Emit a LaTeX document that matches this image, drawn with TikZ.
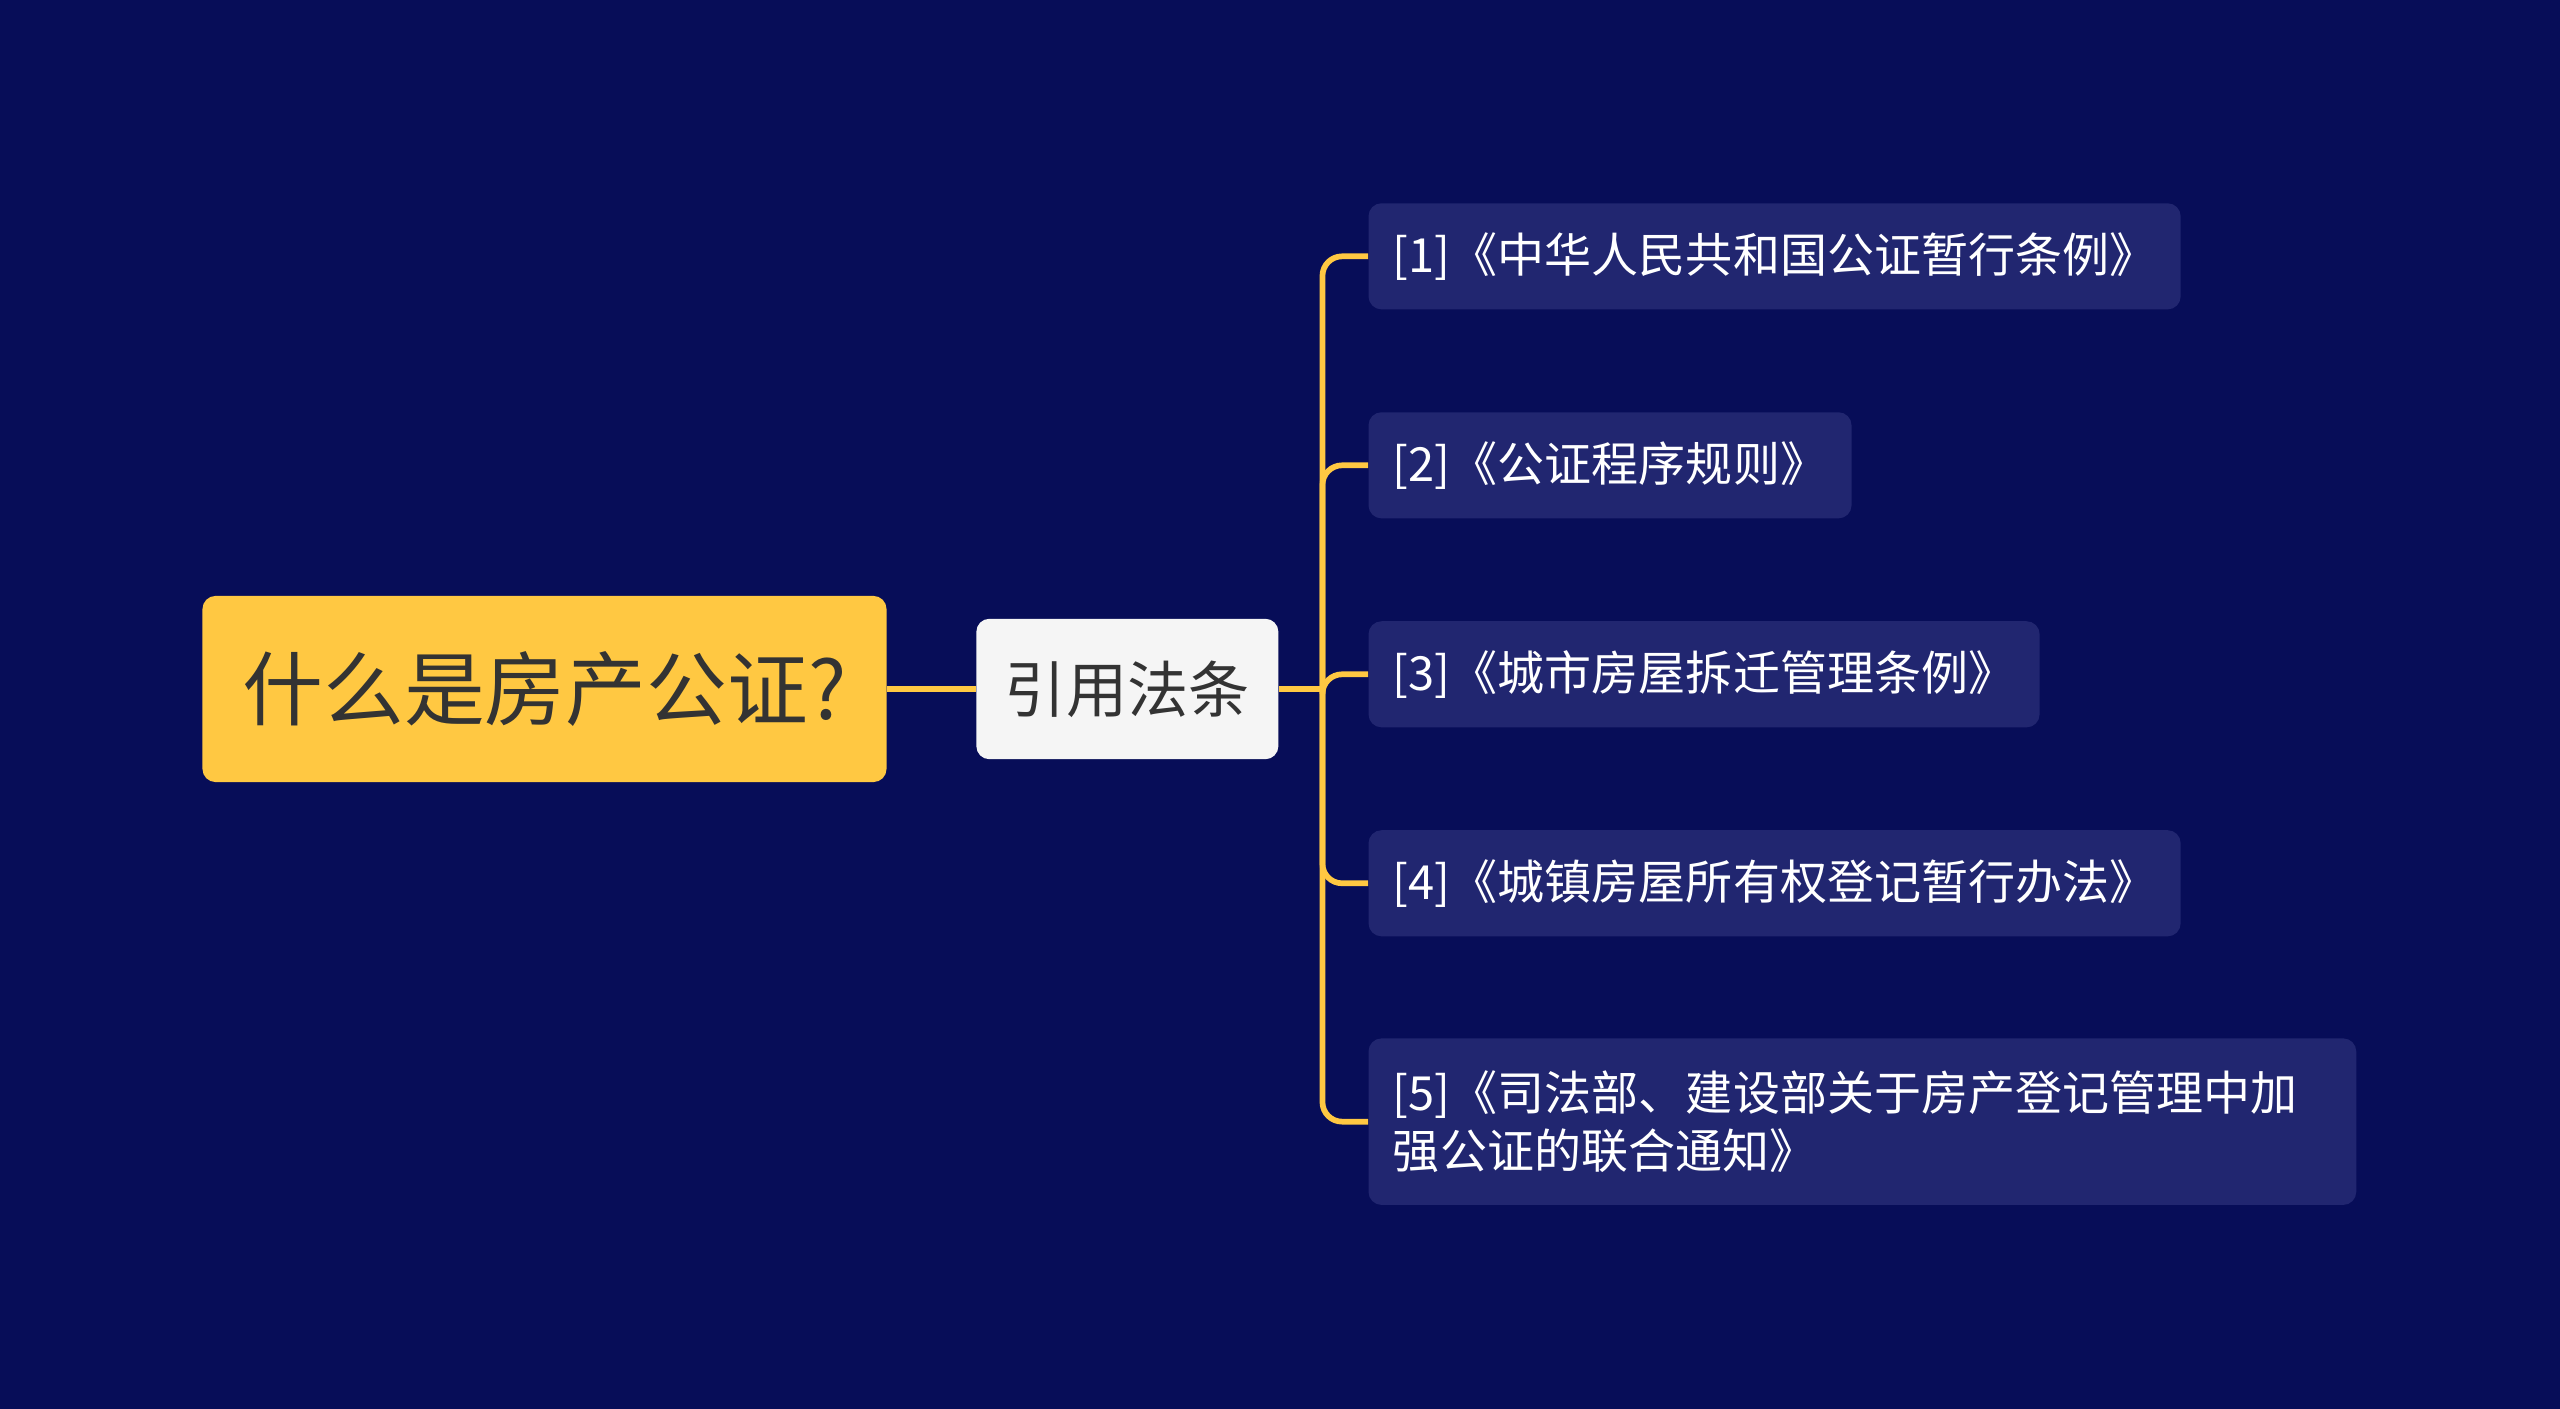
\documentclass[tikz,border=0pt]{standalone}
\usepackage{fontspec}
\setmainfont{Noto Sans CJK SC}
\usetikzlibrary{positioning}
\definecolor{bgnavy}{RGB}{7,13,88}
\definecolor{rootyel}{RGB}{255,200,66}
\definecolor{subgray}{RGB}{245,245,245}
\definecolor{leafnavy}{RGB}{33,38,112}
\definecolor{txtdark}{RGB}{51,51,51}

\begin{document}
\begin{tikzpicture}[x=1pt,y=-1pt,
  rootbox/.style={fill=rootyel, rounded corners=8pt, text=txtdark, inner sep=0pt,
    minimum width=419pt, minimum height=114pt, font=\fontsize{49.5}{58}\selectfont},
  subbox/.style={fill=subgray, rounded corners=8pt, text=txtdark, inner sep=0pt,
    minimum width=185pt, minimum height=86pt, font=\fontsize{37.5}{44}\selectfont},
  leafbox/.style={fill=leafnavy, rounded corners=8pt, text=white, anchor=west,
    inner xsep=15pt, inner ysep=0pt, minimum height=65pt, align=left,
    font=\fontsize{28.8}{36}\selectfont},
  link/.style={draw=rootyel, line width=3.5pt, rounded corners=12pt}]
  % canvas
  \fill[bgnavy] (0,0) rectangle (1568,863);
  \useasboundingbox (0,0) rectangle (1568,863);
  % main topic and branch
  \node[rootbox] (root) at (333.5,422) {什么是房产公证?};
  \node[subbox] (laws) at (690.5,422) {引用法条};
  % cited laws
  \node[leafbox] (law1) at (838,157) {[1]《中华人民共和国公证暂行条例》};
  \node[leafbox] (law2) at (838,285) {[2]《公证程序规则》};
  \node[leafbox] (law3) at (838,413) {[3]《城市房屋拆迁管理条例》};
  \node[leafbox] (law4) at (838,541) {[4]《城镇房屋所有权登记暂行办法》};
  \node[leafbox, minimum height=102pt, text width=575pt] (law5) at (838,687)
    {[5]《司法部、建设部关于房产登记管理中加\\强公证的联合通知》};
  % connectors
  \coordinate (fork) at (810,422);
  \draw[link] (root.east) -- (laws.west);
  \draw[link] (laws.east) -- (fork);
  \foreach \n in {1,...,5}
    \draw[link] (fork) |- (law\n.west);
\end{tikzpicture}
\end{document}
